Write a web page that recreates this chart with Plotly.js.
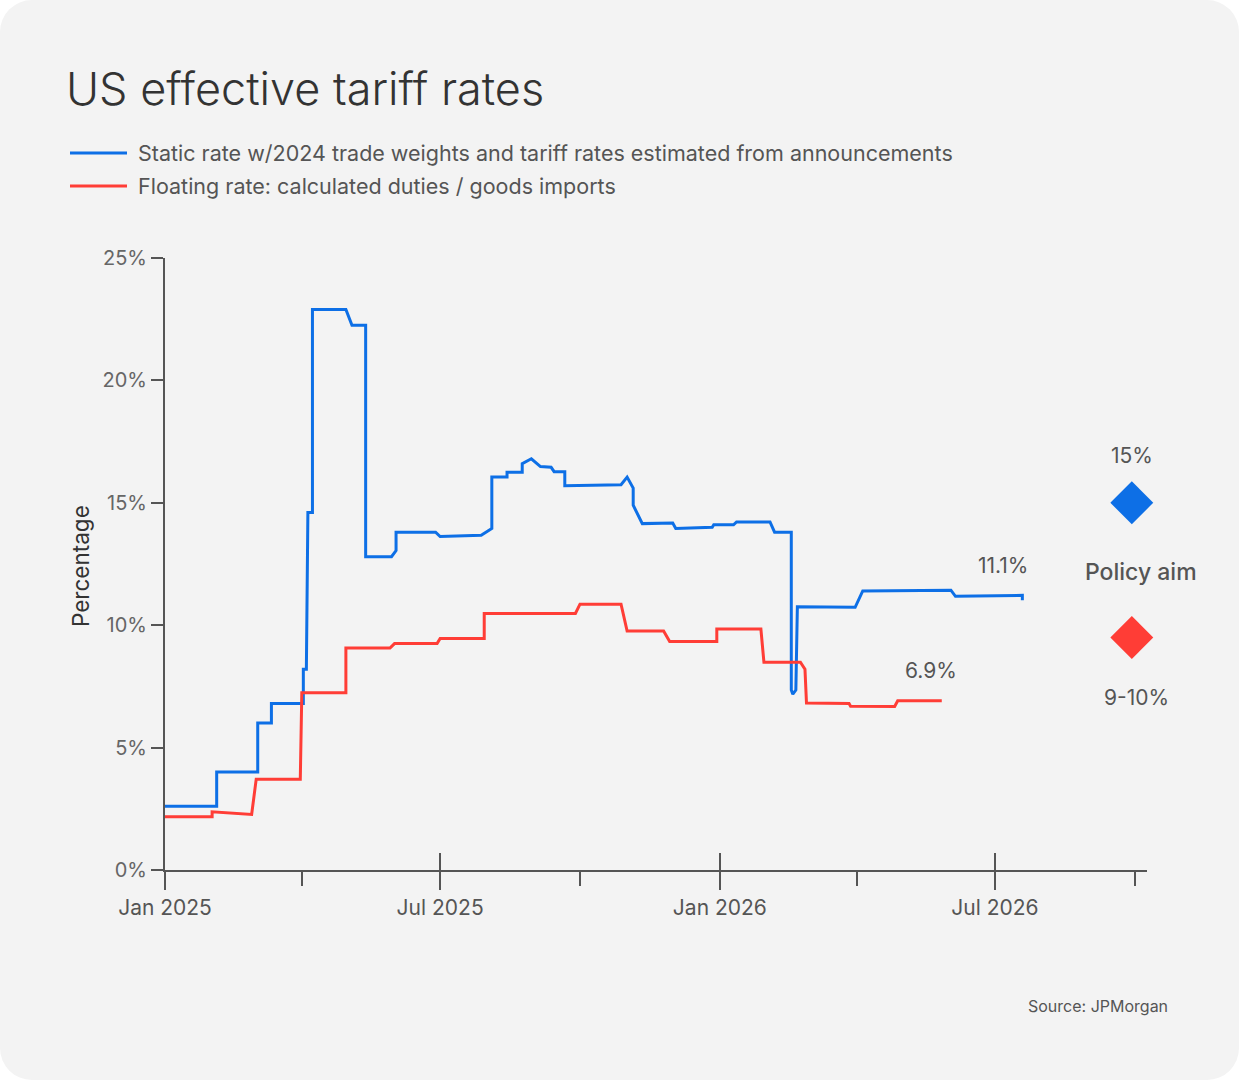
<!DOCTYPE html>
<html>
<head>
<meta charset="utf-8">
<script src="https://cdn.plot.ly/plotly-3.0.1.min.js"></script>
<style>
  html, body { margin: 0; padding: 0; background: #ffffff; }
  #card { position: absolute; left: 0; top: 0; width: 1239px; height: 1080px; background: #f3f3f3; border-radius: 32px; overflow: hidden; }
  #chart { width: 1239px; height: 1080px; }
</style>
</head>
<body>
<div id="card"><div id="chart"></div></div>
<script>
// ---- Data ----
const staticDates = [
  '2025-01-01','2025-02-04','2025-02-04','2025-03-03','2025-03-03','2025-03-12','2025-03-12','2025-04-02','2025-04-02','2025-04-04',
  '2025-04-05','2025-04-08','2025-04-08','2025-04-30','2025-05-04','2025-05-13','2025-05-13','2025-05-30','2025-06-02','2025-06-02',
  '2025-06-28','2025-07-01','2025-07-28','2025-08-04','2025-08-04','2025-08-14','2025-08-14','2025-08-24','2025-08-24','2025-08-30',
  '2025-09-05','2025-09-12','2025-09-14','2025-09-21','2025-09-21','2025-10-28','2025-11-01','2025-11-05','2025-11-05','2025-11-11',
  '2025-12-01','2025-12-03','2025-12-27','2025-12-28','2026-01-10','2026-01-12','2026-02-03','2026-02-06','2026-02-17','2026-02-17',
  '2026-02-18','2026-02-20','2026-02-21','2026-03-31','2026-04-05','2026-06-02','2026-06-05','2026-07-19','2026-07-19'
];
const staticValues = [
  2.6, 2.6, 4.0, 4.0, 6.0, 6.0, 6.8, 6.8, 8.2, 8.2,
  14.6, 14.6, 22.9, 22.9, 22.25, 22.25, 12.8, 12.8, 13.05, 13.8,
  13.8, 13.62, 13.67, 13.95, 16.05, 16.05, 16.25, 16.25, 16.6, 16.8,
  16.48, 16.45, 16.27, 16.27, 15.7, 15.74, 16.05, 15.6, 14.9, 14.15,
  14.17, 13.95, 14.0, 14.1, 14.1, 14.22, 14.22, 13.8, 13.8, 7.35,
  7.18, 7.35, 10.75, 10.73, 11.4, 11.43, 11.18, 11.22, 11.02
];
const floatingDates = [
  '2025-01-01','2025-02-01','2025-02-01','2025-02-27','2025-03-02','2025-03-31','2025-04-01','2025-04-30','2025-04-30','2025-05-29',
  '2025-06-01','2025-06-29','2025-07-01','2025-07-30','2025-07-30','2025-09-28','2025-10-01','2025-10-28','2025-11-01','2025-11-25',
  '2025-11-29','2025-12-30','2025-12-30','2026-01-28','2026-01-30','2026-02-23','2026-02-26','2026-02-27','2026-03-27','2026-03-28',
  '2026-04-26','2026-04-28','2026-05-27'
];
const floatingValues = [
  2.18, 2.18, 2.38, 2.27, 3.71, 3.71, 7.24, 7.24, 9.07, 9.07,
  9.25, 9.25, 9.46, 9.46, 10.48, 10.48, 10.86, 10.86, 9.76, 9.76,
  9.33, 9.33, 9.84, 9.84, 8.49, 8.49, 8.2, 6.82, 6.8, 6.69,
  6.68, 6.91, 6.91
];
const policyAimDate = '2026-09-29';
const policyAimValues = [15, 9.5];
const policyAimLabels = ['15%', '9-10%'];
const endLabels = ['11.1%', '6.9%'];
const seriesNames = [
  'Static rate w/2024 trade weights and tariff rates estimated from announcements',
  'Floating rate: calculated duties / goods imports'
];
const majorTickVals = ['2025-01-01','2025-07-01','2026-01-01','2026-07-01'];
const majorTickText = ['Jan 2025','Jul 2025','Jan 2026','Jul 2026'];
const minorTickVals = ['2025-04-01','2025-10-01','2026-04-01','2026-10-01'];

// ---- Styles ----
const BLUE = '#0d6fe6';
const RED = '#ff3d36';
const AXIS = '#555555';
const FONT = 'Inter, "Noto Sans", sans-serif';
const xRange = ['2025-01-01', '2026-10-09'];
const M = { l: 165, r: 92, t: 258, b: 210, autoexpand: false };

const traces = [
  {
    x: staticDates, y: staticValues, type: 'scatter', mode: 'lines',
    name: '\u00a0' + seriesNames[0], line: { color: BLUE, width: 3 }, legend: 'legend', hoverinfo: 'x+y'
  },
  {
    x: floatingDates, y: floatingValues, type: 'scatter', mode: 'lines',
    name: '\u00a0' + seriesNames[1], line: { color: RED, width: 3 }, legend: 'legend2', hoverinfo: 'x+y'
  },
  {
    x: [policyAimDate, policyAimDate], y: policyAimValues, type: 'scatter', mode: 'markers',
    xaxis: 'x2', showlegend: false, cliponaxis: false, hoverinfo: 'skip',
    marker: { symbol: 'diamond', size: 33, color: [BLUE, RED], line: { width: 0 } }
  }
];

const plotW = 1239 - M.l - M.r;
const plotH = 1080 - M.t - M.b;
const legendFont = { family: FONT, size: 21.5, color: '#555' };
const annFont = { family: FONT, size: 21, color: '#555' };
const layout = {
  width: 1239, height: 1080,
  margin: M,
  paper_bgcolor: 'rgba(0,0,0,0)', plot_bgcolor: 'rgba(0,0,0,0)',
  font: { family: FONT, color: '#555' },
  title: {
    text: 'US effective tariff rates',
    font: { family: FONT, size: 45, color: '#333', weight: 300 },
    xref: 'container', yref: 'container', x: 66 / 1239, xanchor: 'left',
    y: 1 - 89 / 1080, yanchor: 'middle'
  },
  showlegend: true,
  legend: {
    xref: 'container', yref: 'container', x: 65 / 1239, y: 1 - 153 / 1080,
    xanchor: 'left', yanchor: 'middle', itemwidth: 57, bgcolor: 'rgba(0,0,0,0)',
    font: legendFont, itemclick: false, itemdoubleclick: false
  },
  legend2: {
    xref: 'container', yref: 'container', x: 65 / 1239, y: 1 - 186 / 1080,
    xanchor: 'left', yanchor: 'middle', itemwidth: 57, bgcolor: 'rgba(0,0,0,0)',
    font: legendFont, itemclick: false, itemdoubleclick: false
  },
  xaxis: {
    type: 'date', range: xRange, showgrid: false, zeroline: false,
    showline: true, linecolor: AXIS, linewidth: 2,
    ticks: 'outside', ticklen: 18, tickwidth: 2, tickcolor: AXIS,
    tickmode: 'array', tickvals: majorTickVals, ticktext: majorTickText, tickangle: 0,
    tickfont: { family: FONT, size: 21, color: '#555' },
    minor: { tickmode: 'array', tickvals: minorTickVals, ticks: 'outside', ticklen: 14, tickwidth: 2, tickcolor: AXIS, showgrid: false },
    fixedrange: true
  },
  xaxis2: {
    type: 'date', range: xRange, overlaying: 'x', anchor: 'y', side: 'bottom',
    showgrid: false, zeroline: false, showline: false,
    ticks: 'inside', ticklen: 17, tickwidth: 2, tickcolor: AXIS,
    tickmode: 'array', tickvals: majorTickVals, showticklabels: false, fixedrange: true
  },
  yaxis: {
    range: [0, 25], showgrid: false, zeroline: false,
    showline: true, linecolor: AXIS, linewidth: 2,
    ticks: 'outside', ticklen: 12, tickwidth: 2, tickcolor: AXIS,
    tickmode: 'linear', tick0: 0, dtick: 5, ticksuffix: '%',
    tickfont: { family: FONT, size: 20, color: '#666' },
    fixedrange: true
  },
  annotations: [
    { x: (80 - M.l) / plotW, y: (1080 - M.b - 566) / plotH, xref: 'paper', yref: 'paper',
      text: 'Percentage', textangle: -90, showarrow: false, xanchor: 'center', yanchor: 'middle',
      font: { family: FONT, size: 22.5, color: '#333' } },
    { x: '2026-07-06', y: 12.45, xref: 'x', yref: 'y', text: endLabels[0], showarrow: false, font: annFont },
    { x: '2026-05-20', y: 8.16, xref: 'x', yref: 'y', text: endLabels[1], showarrow: false, font: annFont },
    { x: policyAimDate, y: 16.94, xref: 'x', yref: 'y', text: policyAimLabels[0], showarrow: false, font: annFont },
    { x: '2026-10-05', y: 12.16, xref: 'x', yref: 'y', text: 'Policy aim', showarrow: false,
      font: { family: FONT, size: 23, color: '#555', weight: 500 } },
    { x: '2026-10-02', y: 7.06, xref: 'x', yref: 'y', text: policyAimLabels[1], showarrow: false, font: annFont },
    { x: (1170 - M.l) / plotW, y: (1080 - M.b - 1006) / plotH, xref: 'paper', yref: 'paper',
      text: 'Source: JPMorgan', showarrow: false, xanchor: 'right', yanchor: 'middle',
      font: { family: FONT, size: 16, color: '#555' } }
  ]
};

Plotly.newPlot('chart', traces, layout, { displayModeBar: false, staticPlot: true });
</script>
</body>
</html>
